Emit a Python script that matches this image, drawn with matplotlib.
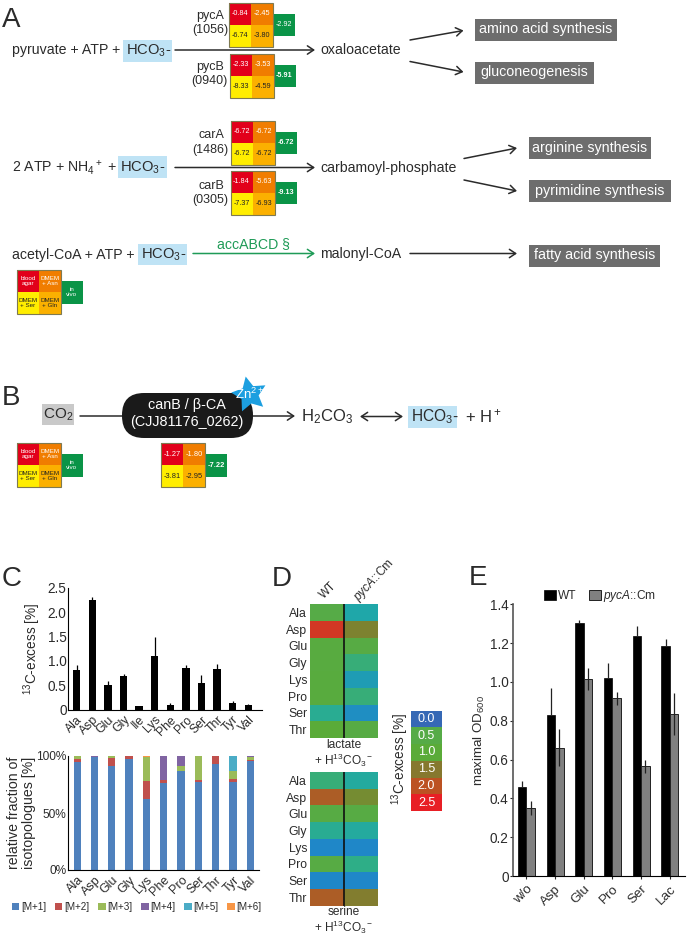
import matplotlib
matplotlib.use("Agg")
import matplotlib.pyplot as plt
import numpy as np
from matplotlib.colors import LinearSegmentedColormap
from matplotlib.patches import Rectangle, FancyBboxPatch

plt.rcParams["font.family"] = ["Liberation Sans", "DejaVu Sans"]
plt.rcParams["mathtext.fontset"] = "custom"
plt.rcParams["mathtext.rm"] = "Liberation Sans"
plt.rcParams["mathtext.it"] = "Liberation Sans:italic"
plt.rcParams["mathtext.bf"] = "Liberation Sans:bold"
plt.rcParams["mathtext.default"] = "regular"

W, H = 688, 941
INK = "#2b2b2b"

# panel A/B expression tiles: blood agar, DMEM+Asn, DMEM+Ser, DMEM+Gln, in vivo
tile_pyca = ["-0.84", "-2.45", "-6.74", "-3.80", "-2.92"]
tile_pycb = ["-2.33", "-3.53", "-8.33", "-4.59", "-5.91"]
tile_cara = ["-6.72", "-6.72", "-6.72", "-6.72", "-6.72"]
tile_carb = ["-1.84", "-5.63", "-7.37", "-6.93", "-9.13"]
tile_canb = ["-1.27", "-1.80", "-3.81", "-2.95", "-7.22"]
tile_key = ["blood\nagar", "DMEM\n+ Asn", "DMEM\n+ Ser", "DMEM\n+ Gln", "in\nvivo"]

# panel C
aa_top = ["Ala", "Asp", "Glu", "Gly", "Ile", "Lys", "Phe", "Pro", "Ser", "Thr", "Tyr", "Val"]
excess = [0.82, 2.25, 0.51, 0.69, 0.07, 1.11, 0.10, 0.85, 0.55, 0.83, 0.13, 0.09]
excess_err = [0.10, 0.06, 0.07, 0.05, 0.015, 0.38, 0.04, 0.07, 0.17, 0.10, 0.04, 0.03]

aa_iso = ["Ala", "Asp", "Glu", "Gly", "Lys", "Phe", "Pro", "Ser", "Thr", "Tyr", "Val"]
iso_names = ["[M+1]", "[M+2]", "[M+3]", "[M+4]", "[M+5]", "[M+6]"]
m1 = [95, 99, 91, 97, 62, 76, 86.5, 77, 93, 77, 96]
m2 = [2, 0.5, 7, 3, 16, 3, 0, 2, 7, 3, 0.5]
m3 = [3, 0, 2, 0, 21, 0, 5, 21, 0, 6.5, 3]
m4 = [0, 0.5, 0, 0, 0, 21, 8.5, 0, 0, 0, 0.5]
m5 = [0, 0, 0, 0, 0, 0, 0, 0, 0, 13.5, 0]
m6 = [0, 0, 0, 0, 1, 0, 0, 0, 0, 0, 0]
iso_colors = ["#4f81bd", "#c0504d", "#9bbb59", "#8064a2", "#4bacc6", "#f79646"]

# panel D
aa_heat = ["Ala", "Asp", "Glu", "Gly", "Lys", "Pro", "Ser", "Thr"]
lactate_wt = [0.5, 2.25, 0.75, 0.75, 0.8, 0.8, 0.35, 1.0]
lactate_cm = [0.25, 1.4, 0.6, 0.42, 0.2, 0.42, 0.13, 0.6]
serine_wt = [0.42, 1.85, 0.6, 0.35, 0.1, 0.6, 0.1, 1.85]
serine_cm = [0.3, 1.3, 0.6, 0.3, 0.1, 0.4, 0.1, 1.45]
scale_values = [0.0, 0.5, 1.0, 1.5, 2.0, 2.5]

# panel E
media = ["w/o", "Asp", "Glu", "Pro", "Ser", "Lac"]
od_wt = [0.46, 0.83, 1.305, 1.02, 1.235, 1.185]
od_wt_err = [0.03, 0.14, 0.015, 0.08, 0.055, 0.035]
od_cm = [0.35, 0.66, 1.015, 0.915, 0.565, 0.835]
od_cm_err = [0.035, 0.095, 0.055, 0.035, 0.035, 0.11]

heat_cmap = LinearSegmentedColormap.from_list("excess", [
    (0.0, "#3568b5"), (0.04, "#1f88c8"), (0.1, "#1fa8a8"), (0.16, "#2fae85"),
    (0.2, "#56ab47"), (0.4, "#5aab38"), (0.6, "#86782e"), (0.8, "#bc5222"), (1.0, "#e81f25"),
])

fig = plt.figure(figsize=(W / 100, H / 100), dpi=100)


def axes_px(x0, y0, x1, y1):
    return fig.add_axes([x0 / W, 1 - y1 / H, (x1 - x0) / W, (y1 - y0) / H])


bg = axes_px(0, 0, W, H)
bg.set_xlim(0, W)
bg.set_ylim(H, 0)
bg.axis("off")


def txt(x, y, s, size=10.2, color=INK, ha="left", va="center", **kw):
    bg.text(x, y, s, fontsize=size, color=color, ha=ha, va=va, **kw)


def box(x0, y0, x1, y1, color):
    bg.add_patch(Rectangle((x0, y0), x1 - x0, y1 - y0, fc=color, ec="none", zorder=0))


def arrow(x0, y0, x1, y1, color=INK, style="->"):
    bg.annotate("", xy=(x1, y1), xytext=(x0, y0),
                arrowprops=dict(arrowstyle=style + ",head_length=0.45,head_width=0.3",
                                color=color, lw=1.1, shrinkA=0, shrinkB=0))


def tile(x, y, labels, size=5.2, vivo_weight="normal"):
    # 2x2 block with the in vivo square stuck on the right
    s = 22
    colors = ["#e2001a", "#f07d00", "#ffed00", "#fbb000"]
    tcolors = ["white", "white", "#222222", "#222222"]
    for i in range(4):
        cx = x + (i % 2) * s
        cy = y + (i // 2) * s
        bg.add_patch(Rectangle((cx, cy), s, s, fc=colors[i], ec="none", zorder=2))
        bg.text(cx + s / 2, cy + s / 2, labels[i], fontsize=size, color=tcolors[i],
                ha="center", va="center", linespacing=1.15, zorder=4)
    bg.add_patch(Rectangle((x, y), 2 * s, 2 * s, fc="none", ec="#7f7a50", lw=0.8, zorder=3))
    bg.add_patch(Rectangle((x + 2 * s, y + 11), s, 22.5, fc="#0a9447", ec="none", zorder=2))
    bg.text(x + 2.5 * s, y + 22, labels[4], fontsize=size, color="white", fontweight=vivo_weight,
            ha="center", va="center", linespacing=1.15, zorder=4)


HCO3 = "HCO$_3$-"

# ---- panel A ----
txt(2, 20, "A", size=20)
box(123, 40, 172, 62, "#bfe3f5")
txt(12, 50, "pyruvate + ATP + ")
txt(126, 51, HCO3, size=10.6)
arrow(175, 50, 315, 50)
txt(320, 50, "oxaloacetate")
arrow(410, 40, 463.5, 30.5)
arrow(410, 61.5, 463.5, 72)
txt(224, 16, "pycA", ha="right", size=9)
txt(228, 30, "(1056)", ha="right", size=9)
txt(224, 66.5, "pycB", ha="right", size=9)
txt(228, 81, "(0940)", ha="right", size=9)
tile(229, 2.5, tile_pyca)
tile(229.5, 53.5, tile_pycb, vivo_weight="bold")

box(118, 156, 167, 178, "#bfe3f5")
txt(12, 167.5, "2 ATP + NH$_4$$^+$ + ")
txt(120, 168, HCO3, size=10.6)
arrow(175, 167.5, 315, 167.5)
txt(320, 167.5, "carbamoyl-phosphate")
arrow(464, 158.5, 517, 148)
arrow(464, 180, 517, 191)
txt(224, 135, "carA", ha="right", size=9)
txt(228, 149.5, "(1486)", ha="right", size=9)
txt(224, 185.5, "carB", ha="right", size=9)
txt(228, 200, "(0305)", ha="right", size=9)
tile(230.5, 120.5, tile_cara, vivo_weight="bold")
tile(230.5, 170.5, tile_carb, vivo_weight="bold")

box(138, 244, 187, 265, "#bfe3f5")
txt(12, 254.5, "acetyl-CoA + ATP + ")
txt(141, 255, HCO3, size=10.6)
arrow(193, 253.5, 315, 253.5, color="#1f9b57")
txt(253, 244, "accABCD §", color="#1f9b57", ha="center")
txt(320, 253.5, "malonyl-CoA")
arrow(410, 253.5, 517, 253.5)
tile(17, 270, tile_key, size=4.5)

for x0, y0, x1, y1, label in [
    (475, 19, 617, 40.5, "amino acid synthesis"),
    (475, 62, 593.5, 83.5, "gluconeogenesis"),
    (528.5, 137, 651, 159, "arginine synthesis"),
    (528.5, 180, 670.5, 202, "pyrimidine synthesis"),
    (528.5, 245, 660, 266.5, "fatty acid synthesis"),
]:
    box(x0, y0, x1, y1, "#6d6d6d")
    txt((x0 + x1) / 2, (y0 + y1) / 2 - 0.5, label, color="white", ha="center", size=10.3)

# ---- panel B ----
txt(2, 398, "B", size=20)
box(42, 404, 74, 425, "#c9c9c9")
txt(58, 415, "CO$_2$", ha="center", size=11)
arrow(80, 416, 295, 416)
bg.add_patch(FancyBboxPatch((122, 393), 131, 45, boxstyle="round,pad=0,rounding_size=22",
                            fc="#1a1a1a", ec="#1a1a1a", lw=0, zorder=3))
bg.text(187, 405, "canB / β-CA", color="white", fontsize=10.4, ha="center", va="center", zorder=4)
bg.text(187, 422, "(CJJ81176_0262)", color="white", fontsize=10.4, ha="center", va="center", zorder=4)
bg.scatter([249], [394], marker=(5, 1, 12), s=700, color="#1c9fe0", lw=0, zorder=5)
bg.text(250, 394, "Zn$^{2+}$", color="white", fontsize=9.5, ha="center", va="center", zorder=6)
txt(301, 417, "H$_2$CO$_3$", size=12)
arrow(360, 416.5, 403, 416.5, style="<->")
box(408, 406, 457, 428, "#bfe3f5")
txt(411, 417, HCO3, size=11.2)
txt(465, 416, "+ H$^+$", size=12)
tile(17, 443, tile_key, size=4.5)
tile(161, 443, tile_canb, size=5.4, vivo_weight="bold")

# ---- panel C, top ----
txt(2, 579, "C", size=20)
ax = axes_px(68, 587.7, 262, 709.7)
xc = np.arange(len(aa_top))
ax.bar(xc, excess, width=0.47, color="black")
ax.errorbar(xc, excess, yerr=[np.zeros(len(xc)), excess_err], fmt="none", ecolor="black",
            elinewidth=0.9, capsize=0)
ax.set_xlim(-0.56, 11.88)
ax.set_ylim(0, 2.5)
ax.set_yticks([0, 0.5, 1.0, 1.5, 2.0, 2.5], ["0", "0.5", "1.0", "1.5", "2.0", "2.5"])
ax.set_xticks(xc, aa_top, rotation=45, ha="right", rotation_mode="anchor")
ax.tick_params(axis="y", labelsize=9.8, length=0, pad=1, labelcolor=INK)
ax.tick_params(axis="x", labelsize=8.8, length=0, pad=3, labelcolor=INK)
ax.set_ylabel("$^{13}$C-excess [%]", fontsize=9.8, color=INK)
ax.yaxis.set_label_coords(-0.129, 0.5)
ax.spines[["top", "right"]].set_visible(False)

# ---- panel C, bottom ----
ax = axes_px(68, 756, 259, 870)
xi = np.arange(len(aa_iso))
bottom = np.zeros(len(xi))
for vals, name, col in zip([m1, m2, m3, m4, m5, m6], iso_names, iso_colors):
    ax.bar(xi, vals, width=0.42, bottom=bottom, color=col, label=name)
    bottom += np.array(vals)
ax.set_xlim(-0.53, 10.5)
ax.set_ylim(0, 100)
ax.set_yticks([0, 50, 100], ["0%", "50%", "100%"])
ax.set_xticks(xi, aa_iso, rotation=45, ha="right", rotation_mode="anchor")
ax.tick_params(axis="y", labelsize=8.6, length=0, pad=1, labelcolor=INK)
ax.tick_params(axis="x", labelsize=9, length=0, pad=3, labelcolor=INK)
ax.set_ylabel("relative fraction of\nisotopologues [%]", fontsize=10.2, color=INK, labelpad=0,
              linespacing=1.1)
ax.spines[["top", "right"]].set_visible(False)
ax.legend(loc="lower left", bbox_to_anchor=(12 / W, 1 - 912 / H), bbox_transform=fig.transFigure,
          ncol=6, frameon=False, fontsize=7.1, handlelength=0.75, handleheight=0.75,
          handletextpad=0.2, columnspacing=0.87, borderpad=0, borderaxespad=0,
          labelcolor=INK)

# ---- panel D ----
txt(272, 579, "D", size=20)


def heat(y0, y1, col_wt, col_cm):
    a = axes_px(310, y0, 377.7, y1)
    a.pcolormesh(np.array([col_wt, col_cm]).T, cmap=heat_cmap, vmin=0, vmax=2.5)
    a.set_ylim(len(aa_heat), 0)
    a.set_xlim(0, 2)
    a.set_xticks([])
    a.set_yticks(np.arange(len(aa_heat)) + 0.5, aa_heat)
    a.tick_params(axis="y", length=0, labelsize=8.8, pad=2, labelcolor=INK)
    a.axvline(1, color="#101010", lw=1.2)
    for s in a.spines.values():
        s.set_visible(False)
    return a


heat(604, 738, lactate_wt, lactate_cm)
heat(772, 905.7, serine_wt, serine_cm)
txt(328, 590, "WT", size=8.4, ha="center", rotation=45)
txt(374, 580, "$\\it{pycA}$::Cm", size=8.6, ha="center", rotation=47)
txt(343.5, 745, "lactate", size=8.6, ha="center")
txt(343.5, 760, "+ H$^{13}$CO$_3$$^-$", size=8.6, ha="center")
txt(343.5, 912, "serine", size=8.6, ha="center")
txt(343.5, 927, "+ H$^{13}$CO$_3$$^-$", size=8.6, ha="center")

a = axes_px(411, 710.7, 442, 811)
a.pcolormesh([[v] for v in scale_values], cmap=heat_cmap, vmin=0, vmax=2.5)
a.set_ylim(len(scale_values), 0)
a.axis("off")
for i, v in enumerate(scale_values):
    a.text(0.5, i + 0.5, f"{v:.1f}", color="white", fontsize=9, ha="center", va="center")
txt(400, 759, "$^{13}$C-excess [%]", size=9.8, ha="center", rotation=90)

# ---- panel E ----
txt(469, 578, "E", size=20)
ax = axes_px(512.7, 604.3, 685, 876)
xe = np.arange(len(media))
bw = 0.3
ax.bar(xe - bw / 2, od_wt, width=bw, color="black", ec="black", lw=0.5, label="WT")
ax.bar(xe + bw / 2, od_cm, width=bw, color="#808080", ec="#222222", lw=0.7, label="$\\it{pycA}$::Cm")
ax.errorbar(xe - bw / 2, od_wt, yerr=[np.zeros(6), od_wt_err], fmt="none", ecolor="#222222", elinewidth=0.9)
ax.errorbar(xe + bw / 2, od_cm, yerr=od_cm_err, fmt="none", ecolor="#222222", elinewidth=0.9)
ax.set_xlim(-0.48, 5.53)
ax.set_ylim(0, 1.4)
ax.set_yticks([0, 0.2, 0.4, 0.6, 0.8, 1.0, 1.2, 1.4], ["0", "0.2", "0.4", "0.6", "0.8", "1.0", "1.2", "1.4"])
ax.set_xticks(xe, media, rotation=45, ha="right", rotation_mode="anchor")
ax.tick_params(axis="y", labelsize=9.8, length=2, pad=1, labelcolor=INK, color=INK)
ax.tick_params(axis="x", labelsize=9.6, length=2, pad=3, labelcolor=INK, color=INK)
ax.set_ylabel("maximal OD$_{600}$", fontsize=9.6, color=INK, labelpad=2)
ax.spines[["top", "right"]].set_visible(False)
ax.spines["left"].set_color("#555555")
ax.spines["left"].set_linewidth(1.2)
ax.legend(loc="lower left", bbox_to_anchor=(544 / W, 1 - 604 / H), bbox_transform=fig.transFigure,
          ncol=2, frameon=False, fontsize=8.6, handlelength=1.0, handleheight=1.0,
          handletextpad=0.2, columnspacing=1.0, borderpad=0, borderaxespad=0, labelcolor=INK)

fig.savefig("out.png", dpi=100)
